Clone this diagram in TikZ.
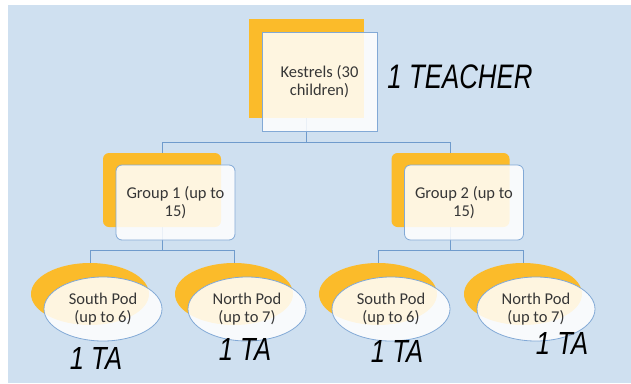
\documentclass[tikz,border=0pt]{standalone}
\usepackage{fontspec}
\setmainfont{Carlito}
\newfontfamily\handfont{Liberation Sans}
\usetikzlibrary{shapes.geometric}
\definecolor{bgblue}{HTML}{CFE0F0}
\definecolor{gold}{HTML}{FBBB2A}
\definecolor{edgeblue}{HTML}{82A9D6}
\definecolor{linkblue}{HTML}{6F9BCC}
\definecolor{textgray}{HTML}{363636}
\pgfdeclarelayer{back}
\pgfdeclarelayer{links}
\pgfsetlayers{back,links,main}
\tikzset{
  backbox/.style={fill=gold, inner sep=0pt, minimum width=#1},
  frontbox/.style={draw=edgeblue, line width=0.8pt, fill=white, fill opacity=0.86,
    text opacity=1, text=textgray, align=center, inner sep=0pt, minimum width=#1,
    font=\fontsize{16.5}{18.5}\selectfont},
  backpod/.style={ellipse, fill=gold, inner sep=0pt, minimum width=118pt, minimum height=62pt},
  frontpod/.style={ellipse, draw=edgeblue, line width=0.8pt, fill=white, fill opacity=0.86,
    text opacity=1, text=textgray, align=center, inner sep=0pt, minimum width=118pt,
    minimum height=64pt, font=\fontsize{16.5}{18.5}\selectfont},
  link/.style={draw=linkblue, line width=0.9pt},
  hand/.style={inner sep=0pt, font=\handfont\itshape}
}
\begin{document}
\begin{tikzpicture}[x=1pt,y=-1pt]
\useasboundingbox (0,0) rectangle (631,383);
\begin{pgfonlayer}{back}
\fill[bgblue] (8,5) rectangle (631,383);
\end{pgfonlayer}

% top card
\node[backbox=115pt, minimum height=99pt] (kestrelsbg) at (306.5,68.5) {};
\node[frontbox=115pt, minimum height=99pt] (kestrels) at (319.5,81.5) {Kestrels (30\\children)};
\node[hand] (teacher) at (460,77) {\fontsize{34}{34}\selectfont\scalebox{0.76}[1]{1 TEACHER}};

% groups
\node[backbox=118pt, minimum height=74pt, rounded corners=6pt] (group1bg) at (162,190) {};
\node[frontbox=119pt, minimum height=75pt, rounded corners=6pt] (group1) at (175.5,202.5) {Group 1 (up to\\15)};
\node[backbox=118pt, minimum height=74pt, rounded corners=6pt] (group2bg) at (450.5,190) {};
\node[frontbox=119pt, minimum height=75pt, rounded corners=6pt] (group2) at (464,202.5) {Group 2 (up to\\15)};

% pods
\node[backpod] (south1bg) at (90,294) {};
\node[frontpod] (south1) at (103,309) {South Pod\\(up to 6)};
\node[backpod] (north1bg) at (234,294) {};
\node[frontpod] (north1) at (247,309) {North Pod\\(up to 7)};
\node[backpod] (south2bg) at (378,294) {};
\node[frontpod] (south2) at (391,309) {South Pod\\(up to 6)};
\node[backpod] (north2bg) at (523,294) {};
\node[frontpod] (north2) at (536,309) {North Pod\\(up to 7)};

\node[hand] (ta1) at (96,358) {\fontsize{32}{32}\selectfont\scalebox{0.8}[1]{1 TA}};
\node[hand] (ta2) at (245,349) {\fontsize{32}{32}\selectfont\scalebox{0.8}[1]{1 TA}};
\node[hand] (ta3) at (397,351) {\fontsize{32}{32}\selectfont\scalebox{0.8}[1]{1 TA}};
\node[hand] (ta4) at (562,343) {\fontsize{32}{32}\selectfont\scalebox{0.8}[1]{1 TA}};

\begin{pgfonlayer}{links}
\draw[link] (kestrelsbg.center) -- (kestrelsbg |- 0,142) -| (group1bg.center);
\draw[link] (kestrelsbg |- 0,142) -| (group2bg.center);
\draw[link] (group1bg.center) -- (group1bg |- 0,250) -| (south1bg.center);
\draw[link] (group1bg |- 0,250) -| (north1bg.center);
\draw[link] (group2bg.center) -- (group2bg |- 0,250) -| (south2bg.center);
\draw[link] (group2bg |- 0,250) -| (north2bg.center);
\end{pgfonlayer}
\end{tikzpicture}
\end{document}
